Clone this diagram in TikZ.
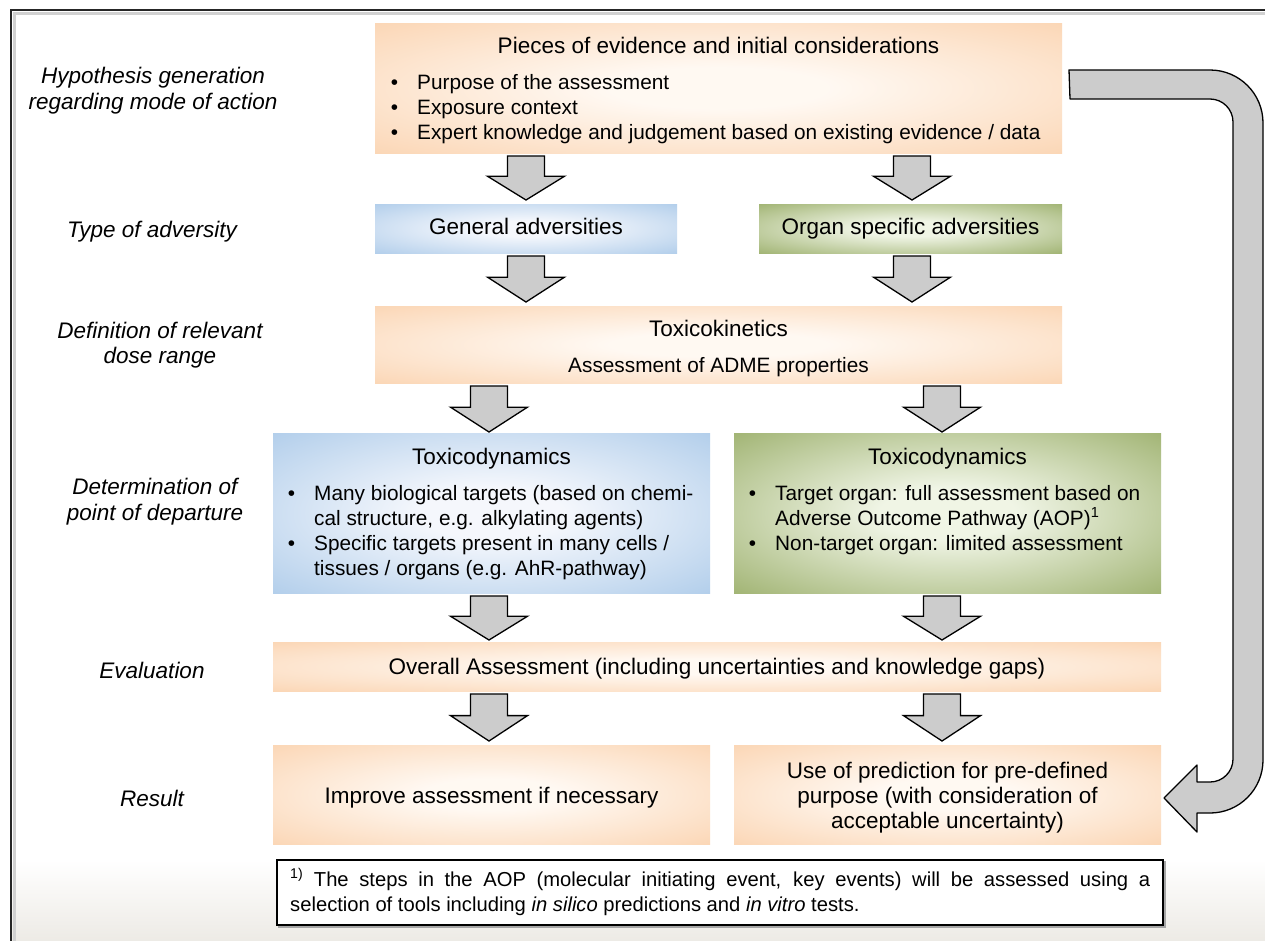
\documentclass[tikz,border=0pt]{standalone}
\usepackage{fontspec}
\setmainfont{Liberation Sans}
\newcommand\ttlfont{\fontsize{22.5}{27}\selectfont}
\newcommand\txtfont{\fontsize{20.8}{25}\selectfont}
\newcommand\labfont{\fontsize{22.5}{25.5}\selectfont\itshape}
\newcommand\fnfont{\fontsize{20.2}{25}\selectfont}
\newcommand\bul{\llap{\textbullet\hspace{19pt}}}
\pgfdeclareradialshading{orangeglow}{\pgfpointorigin}{rgb(0bp)=(1,0.975,0.95);rgb(8bp)=(1,0.975,0.95);rgb(44bp)=(0.98,0.80,0.64);rgb(50bp)=(0.98,0.80,0.64)}
\pgfdeclareradialshading{blueglow}{\pgfpointorigin}{rgb(0bp)=(0.96,0.97,0.99);rgb(8bp)=(0.96,0.97,0.99);rgb(44bp)=(0.62,0.76,0.90);rgb(50bp)=(0.62,0.76,0.90)}
\pgfdeclareradialshading{greenglow}{\pgfpointorigin}{rgb(0bp)=(0.94,0.96,0.90);rgb(8bp)=(0.94,0.96,0.90);rgb(44bp)=(0.54,0.63,0.32);rgb(50bp)=(0.54,0.63,0.32)}
\definecolor{arrowgray}{gray}{0.8}
\definecolor{slidefade}{rgb}{0.93,0.92,0.90}
\tikzset{
  obox/.style={rectangle, inner sep=0pt, shading=orangeglow},
  bbox/.style={rectangle, inner sep=0pt, shading=blueglow},
  gbox/.style={rectangle, inner sep=0pt, shading=greenglow},
  lab/.style={font=\labfont, align=center, inner sep=0pt},
  ttl/.style={font=\ttlfont, inner sep=0pt, anchor=base},
  txt/.style={font=\txtfont, inner sep=0pt, anchor=base west},
  ctxt/.style={font=\txtfont, inner sep=0pt, anchor=base},
  fntxt/.style={font=\fnfont, inner sep=0pt, anchor=base west},
  barrowst/.style={draw=black, fill=arrowgray, line width=1.3pt, line join=miter},
}
\newcommand\barrow[3]{% x centre, y top, y tip (pixels, y down)
  \draw[barrowst] ({#1-18.5},#2) -- ({#1+18.5},#2) -- ({#1+18.5},{#2+0.46*(#3-#2)})
    -- ({#1+38.5},{#2+0.46*(#3-#2)}) -- (#1,#3) -- ({#1-38.5},{#2+0.46*(#3-#2)})
    -- ({#1-18.5},{#2+0.46*(#3-#2)}) -- cycle;}
\begin{document}
\begin{tikzpicture}[x=1pt,y=-1pt]
\useasboundingbox (0,0) rectangle (1265,940);
\fill[white] (0,0) rectangle (1265,940);
% faint slide background at the bottom
\shade[top color=white, bottom color=slidefade] (11,860) rectangle (1265,940);
% frame with shadow
\draw[line width=2.5pt, black!18] (14.5,942) -- (14.5,13.5) -- (1267,13.5);
\draw[line width=1.8pt, black!85] (11,942) -- (11,10) -- (1267,10);

% left labels
\node[lab] (l1) at (153,90.5) {Hypothesis generation\\regarding mode of action};
\node[lab] (l2) at (152,232) {Type of adversity};
\node[lab] (l3) at (160,345) {Definition of relevant\\dose range};
\node[lab] (l4) at (155,501.5) {Determination of\\point of departure};
\node[lab] (l5) at (152,670) {Evaluation};
\node[lab] (l6) at (152,798) {Result};

% boxes
\node[obox, minimum width=687, minimum height=130] (ev) at (718.5,88) {};
\node[bbox, minimum width=302, minimum height=49] (gen) at (526,228.5) {};
\node[gbox, minimum width=303, minimum height=49] (org) at (910.5,228.5) {};
\node[obox, minimum width=687, minimum height=77] (tk) at (718.5,344.5) {};
\node[bbox, minimum width=437, minimum height=160] (tdb) at (491.5,513) {};
\node[gbox, minimum width=427, minimum height=160] (tdg) at (947.5,513) {};
\node[obox, minimum width=888, minimum height=49] (ov) at (717,666.5) {};
\node[obox, minimum width=437, minimum height=99] (imp) at (491.5,794.5) {};
\node[obox, minimum width=427, minimum height=99] (use) at (947.5,794.5) {};
\node[draw=black!35, line width=1.5pt, minimum width=886, minimum height=65, inner sep=0pt] (fnsh) at (722,894.5) {};
\node[draw=black, fill=white, line width=1.3pt, minimum width=886, minimum height=65, inner sep=0pt] (fn) at (720,892.5) {};

% texts
\node[ttl] (evt) at (718.5,53) {Pieces of evidence and initial considerations};
\node[txt] (ev1) at (417,89.5) {\bul Purpose of the assessment};
\node[txt] (ev2) at (417,114.5) {\bul Exposure context};
\node[txt] (ev3) at (417,139.5) {\bul Expert knowledge and judgement based on existing evidence / data};
\node[ttl] (gent) at (526,234.5) {General adversities};
\node[ttl] (orgt) at (910.5,234.5) {Organ specific adversities};
\node[ttl] (tkt) at (718.5,336.5) {Toxicokinetics};
\node[ctxt] (tk1) at (718.5,372.5) {Assessment of ADME properties};
\node[ttl] (tdbt) at (491.5,464.5) {Toxicodynamics};
\node[txt] (tdb1) at (314,500) {\bul Many biological targets (based on chemi-};
\node[txt] (tdb2) at (314,525) {cal structure, e.g. alkylating agents)};
\node[txt] (tdb3) at (314,550) {\bul Specific targets present in many cells /};
\node[txt] (tdb4) at (314,575) {tissues / organs (e.g. AhR-pathway)};
\node[ttl] (tdgt) at (947.5,464.5) {Toxicodynamics};
\node[txt] (tdg1) at (775,500) {\bul Target organ: full assessment based on};
\node[txt] (tdg2) at (775,525) {Adverse Outcome Pathway (AOP)\textsuperscript{1}};
\node[txt] (tdg3) at (775,550) {\bul Non-target organ: limited assessment};
\node[ttl] (ovt) at (717,674.5) {Overall Assessment (including uncertainties and knowledge gaps)};
\node[ttl] (impt) at (491.5,803.5) {Improve assessment if necessary};
\node[ttl] (use1) at (947.5,778.5) {Use of prediction for pre-defined};
\node[ttl] (use2) at (947.5,803.5) {purpose (with consideration of};
\node[ttl] (use3) at (947.5,828.5) {acceptable uncertainty)};
\node[fntxt] (fn1) at (290,886.5)
  {\makebox[860pt][s]{\textsuperscript{1)} The steps in the AOP (molecular initiating event, key events) will be assessed using a}};
\node[fntxt] (fn2) at (290,911.5)
  {selection of tools including \textit{in silico} predictions and \textit{in vitro} tests.};

% block arrows between the boxes
\barrow{526}{156}{200}
\barrow{912}{156}{200}
\barrow{526}{256}{302}
\barrow{912}{256}{302}
\barrow{489}{386}{432}
\barrow{942}{386}{432}
\barrow{489}{596}{640}
\barrow{942}{596}{640}
\barrow{489}{694}{741}
\barrow{942}{694}{741}

% curved return arrow
\draw[barrowst, line join=round] (1069,70) -- (1210,70) arc[start angle=-90, end angle=0, radius=53]
  -- (1263,760) arc[start angle=0, end angle=90, radius=53]
  -- (1197,813) -- (1197,832) -- (1164,798) -- (1197,765) -- (1197,782) -- (1210,782)
  arc[start angle=90, end angle=0, radius=23]
  -- (1233,122) arc[start angle=0, end angle=-90, radius=23]
  -- (1070,99) -- cycle;
\end{tikzpicture}
\end{document}
